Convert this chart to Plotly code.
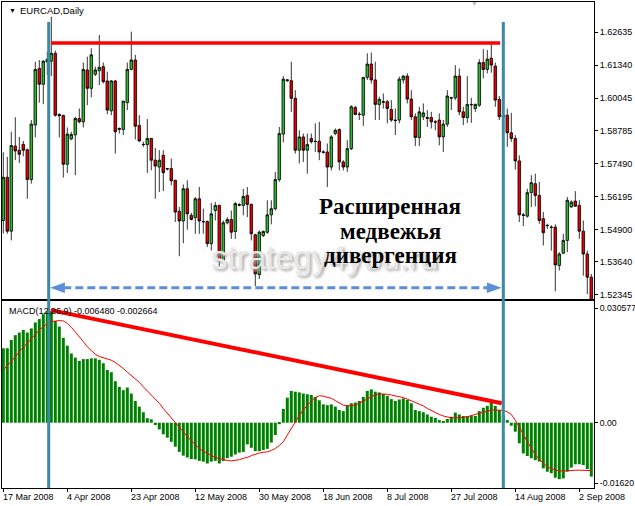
import plotly.graph_objects as go

# ---------------- data ----------------
opens = [1.5526,1.5695,1.5484,1.5817,1.5801,1.5824,1.5803,1.5686,1.5900,1.6121,
 1.6059,1.6146,1.6149,1.6180,1.5941,1.5937,1.5746,1.5845,1.5861,1.5925,
 1.5912,1.6115,1.6043,1.6098,1.6112,1.6128,1.6072,1.5955,1.6072,1.5886,
 1.5882,1.5987,1.6117,1.6154,1.5898,1.5824,1.5823,1.5847,1.5762,1.5735,
 1.5781,1.5729,1.5729,1.5683,1.5562,1.5524,1.5650,1.5546,1.5537,1.5611,
 1.5522,1.5522,1.5435,1.5565,1.5585,1.5369,1.5517,1.5530,1.5483,1.5588,
 1.5585,1.5624,1.5589,1.5470,1.5314,1.5467,1.5480,1.5548,1.5572,1.5686,
 1.5864,1.6073,1.6073,1.6004,1.5801,1.5853,1.5801,1.5847,1.5836,1.5836,
 1.5794,1.5794,1.5735,1.5866,1.5882,1.5755,1.5735,1.5807,1.5968,1.5942,
 1.5938,1.6086,1.6138,1.6076,1.5980,1.5991,1.5991,1.5960,1.5919,1.5919,
 1.6076,1.6091,1.6001,1.5932,1.5851,1.5932,1.5925,1.5929,1.5912,1.5919,
 1.5853,1.5903,1.6006,1.6006,1.6091,1.5951,1.5929,1.5980,1.5964,1.5977,
 1.6144,1.6117,1.6161,1.6130,1.6000,1.5932,1.5938,1.5869,1.5847,1.5759,
 1.5548,1.5543,1.5635,1.5670,1.5624,1.5533,1.5507,1.5500,1.5500,1.5350,
 1.5398,1.5448,1.5579,1.5602,1.5585,1.5484,1.5395,1.5304]
highs = [1.5793,1.5775,1.5873,1.5930,1.5853,1.5837,1.5807,1.5919,1.6147,1.6154,
 1.6154,1.6187,1.6323,1.6191,1.5945,1.5940,1.5890,1.5873,1.5932,1.5964,
 1.6144,1.6167,1.6200,1.6128,1.6252,1.6144,1.6108,1.6076,1.6076,1.5890,
 1.5993,1.6144,1.6265,1.6174,1.5938,1.5834,1.5923,1.5849,1.5810,1.5801,
 1.5801,1.5731,1.5768,1.5686,1.5579,1.5667,1.5683,1.5556,1.5618,1.5657,
 1.5572,1.5526,1.5594,1.5598,1.5588,1.5526,1.5539,1.5565,1.5598,1.5594,
 1.5650,1.5657,1.5592,1.5474,1.5487,1.5487,1.5605,1.5605,1.5716,1.5892,
 1.6091,1.6078,1.6147,1.6036,1.5879,1.5866,1.5866,1.5866,1.5906,1.5912,
 1.5801,1.5827,1.5860,1.5886,1.5886,1.5762,1.5840,1.5977,1.5974,1.5951,
 1.6086,1.6180,1.6183,1.6147,1.6010,1.6023,1.5997,1.5997,1.5964,1.6089,
 1.6095,1.6102,1.6036,1.5945,1.5971,1.5984,1.5958,1.5951,1.5919,1.5945,
 1.5919,1.6036,1.6010,1.6134,1.6121,1.5971,1.6091,1.6006,1.5984,1.6157,
 1.6196,1.6193,1.6217,1.6144,1.6013,1.5964,1.5964,1.5947,1.5860,1.5781,
 1.5556,1.5650,1.5703,1.5709,1.5677,1.5559,1.5513,1.5507,1.5511,1.5402,
 1.5474,1.5618,1.5605,1.5641,1.5605,1.5526,1.5408,1.5317]
lows = [1.5475,1.5474,1.5448,1.5762,1.5751,1.5777,1.5611,1.5670,1.5851,1.5987,
 1.5981,1.6095,1.6091,1.5932,1.5851,1.5694,1.5712,1.5840,1.5703,1.5906,
 1.5890,1.5977,1.6008,1.6091,1.6056,1.6062,1.5942,1.5938,1.5788,1.5866,
 1.5860,1.5958,1.6115,1.5843,1.5834,1.5814,1.5712,1.5722,1.5611,1.5637,
 1.5641,1.5722,1.5664,1.5520,1.5386,1.5437,1.5490,1.5526,1.5474,1.5474,
 1.5474,1.5422,1.5408,1.5526,1.5346,1.5363,1.5511,1.5454,1.5454,1.5581,
 1.5546,1.5539,1.5448,1.5269,1.5297,1.5461,1.5474,1.5511,1.5565,1.5677,
 1.5832,1.6068,1.5951,1.5788,1.5749,1.5755,1.5709,1.5827,1.5794,1.5762,
 1.5788,1.5657,1.5722,1.5860,1.5722,1.5722,1.5716,1.5801,1.5938,1.5919,
 1.5896,1.6076,1.6062,1.5919,1.5919,1.5964,1.5906,1.5912,1.5860,1.5906,
 1.6062,1.5984,1.5919,1.5817,1.5817,1.5919,1.5892,1.5886,1.5879,1.5820,
 1.5794,1.5892,1.5958,1.5997,1.5938,1.5899,1.5908,1.5908,1.5951,1.5971,
 1.6082,1.6102,1.6104,1.5971,1.5919,1.5912,1.5814,1.5834,1.5725,1.5520,
 1.5504,1.5537,1.5579,1.5581,1.5513,1.5428,1.5493,1.5408,1.5249,1.5330,
 1.5395,1.5402,1.5576,1.5579,1.5454,1.5310,1.5238,1.5199]
closes = [1.5695,1.5484,1.5819,1.5798,1.5785,1.5801,1.5686,1.5903,1.6117,1.6059,
 1.6149,1.6157,1.6180,1.5938,1.5936,1.5746,1.5864,1.5862,1.5925,1.5912,
 1.6117,1.6043,1.6174,1.6115,1.6125,1.6069,1.5958,1.6072,1.5873,1.5883,
 1.5993,1.6117,1.6154,1.5895,1.5837,1.5823,1.5847,1.5762,1.5739,1.5762,
 1.5713,1.5728,1.5681,1.5559,1.5524,1.5650,1.5552,1.5530,1.5611,1.5524,
 1.5521,1.5435,1.5552,1.5585,1.5369,1.5517,1.5530,1.5480,1.5592,1.5586,
 1.5620,1.5589,1.5474,1.5317,1.5480,1.5483,1.5548,1.5572,1.5686,1.5866,
 1.6079,1.6076,1.6004,1.5801,1.5853,1.5801,1.5823,1.5834,1.5835,1.5794,
 1.5793,1.5735,1.5853,1.5879,1.5755,1.5735,1.5807,1.5971,1.5941,1.5941,
 1.6086,1.6138,1.6076,1.5980,1.6000,1.5989,1.5964,1.5919,1.5917,1.6079,
 1.6091,1.6001,1.5932,1.5851,1.5951,1.5947,1.5929,1.5912,1.5911,1.5853,
 1.5903,1.6013,1.6005,1.6091,1.5951,1.5929,1.5980,1.5979,1.5980,1.6144,
 1.6117,1.6157,1.6134,1.5997,1.5932,1.5938,1.5869,1.5847,1.5759,1.5548,
 1.5546,1.5635,1.5674,1.5624,1.5526,1.5478,1.5506,1.5499,1.5352,1.5395,
 1.5448,1.5605,1.5598,1.5582,1.5484,1.5395,1.5304,1.5212]

macd_hist = [0.0199,0.0199,0.0221,0.0234,0.0241,0.0248,0.0241,0.0252,0.0268,0.0277,
 0.0290,0.0297,0.0298,0.0272,0.0257,0.0227,0.0206,0.0185,0.0174,0.0165,
 0.0170,0.0170,0.0172,0.0172,0.0168,0.0159,0.0141,0.0135,0.0111,0.0096,
 0.0087,0.0094,0.0078,0.0058,0.0043,0.0028,0.0012,0.0009,-0.0006,-0.0018,
 -0.0031,-0.0040,-0.0051,-0.0064,-0.0078,-0.0088,-0.0093,-0.0097,-0.0098,-0.0102,
 -0.0104,-0.0109,-0.0104,-0.0102,-0.0109,-0.0102,-0.0095,-0.0091,-0.0085,-0.0080,
 -0.0078,-0.0058,-0.0067,-0.0076,-0.0076,-0.0073,-0.0070,-0.0053,-0.0033,-0.0004,
 0.0037,0.0067,0.0085,0.0083,0.0081,0.0078,0.0076,0.0074,0.0069,0.0060,
 0.0049,0.0047,0.0049,0.0043,0.0034,0.0031,0.0047,0.0052,0.0054,0.0058,
 0.0069,0.0085,0.0089,0.0083,0.0081,0.0077,0.0072,0.0063,0.0058,0.0062,
 0.0065,0.0061,0.0052,0.0034,0.0031,0.0028,0.0022,0.0016,0.0013,0.0007,
 0.0004,0.0010,0.0016,0.0027,0.0022,0.0018,0.0018,0.0018,0.0018,0.0031,
 0.0040,0.0045,0.0053,0.0045,0.0034,0.0020,0.0007,-0.0008,-0.0024,-0.0055,
 -0.0082,-0.0089,-0.0095,-0.0100,-0.0104,-0.0122,-0.0131,-0.0135,-0.0147,-0.0151,
 -0.0149,-0.0131,-0.0120,-0.0111,-0.0111,-0.0113,-0.0124,-0.0144]
macd_signal = [0.0141,0.0152,0.0165,0.0176,0.0190,0.0201,0.0212,0.0224,0.0236,0.0248,
 0.0257,0.0265,0.0270,0.0272,0.0273,0.0272,0.0266,0.0255,0.0243,0.0230,
 0.0217,0.0203,0.0192,0.0183,0.0177,0.0174,0.0170,0.0167,0.0161,0.0154,
 0.0145,0.0135,0.0126,0.0117,0.0108,0.0096,0.0085,0.0074,0.0063,0.0052,
 0.0038,0.0025,0.0013,0.0001,-0.0011,-0.0024,-0.0037,-0.0048,-0.0060,-0.0069,
 -0.0076,-0.0082,-0.0088,-0.0093,-0.0096,-0.0099,-0.0101,-0.0102,-0.0101,-0.0099,
 -0.0095,-0.0093,-0.0088,-0.0084,-0.0081,-0.0079,-0.0078,-0.0074,-0.0069,-0.0061,
 -0.0051,-0.0033,-0.0015,0.0003,0.0019,0.0034,0.0047,0.0058,0.0067,0.0072,
 0.0071,0.0069,0.0065,0.0059,0.0052,0.0047,0.0045,0.0045,0.0047,0.0052,
 0.0058,0.0065,0.0071,0.0075,0.0077,0.0077,0.0076,0.0074,0.0072,0.0069,
 0.0067,0.0063,0.0059,0.0054,0.0050,0.0045,0.0038,0.0032,0.0027,0.0022,
 0.0018,0.0015,0.0013,0.0013,0.0013,0.0014,0.0016,0.0019,0.0022,0.0026,
 0.0029,0.0032,0.0034,0.0034,0.0034,0.0033,0.0029,0.0022,0.0007,-0.0011,
 -0.0031,-0.0051,-0.0069,-0.0085,-0.0098,-0.0109,-0.0118,-0.0123,-0.0127,-0.0129,
 -0.0129,-0.0128,-0.0127,-0.0127,-0.0127,-0.0127,-0.0127,-0.0128]

date_labels = ["17 Mar 2008", "4 Apr 2008", "23 Apr 2008", "12 May 2008", "30 May 2008",
               "18 Jun 2008", "8 Jul 2008", "27 Jul 2008", "14 Aug 2008", "2 Sep 2008"]
date_label_bars = [0, 16, 32, 48, 64, 80, 96, 112, 128, 144]

price_ticks = [1.62635, 1.61340, 1.60045, 1.58785, 1.57490, 1.56195, 1.54900, 1.53640, 1.52345]
price_tick_text = ["1.62635", "1.61340", "1.60045", "1.58785", "1.57490",
                   "1.56195", "1.54900", "1.53640", "1.52345"]
macd_ticks = [0.030577, 0.0, -0.01620]
macd_tick_text = ["0.030577", "0.00", "-0.01620"]

resistance_level = 1.62203
macd_line_start = (11.9, 0.0301)
macd_line_end = (124.6, 0.0052)
marker_bars = [11.35, 125.0]

# ---------------- layout helpers ----------------
W, H = 635, 506
ML, MR, MT, MB = 2, 41, 2, 18
PW, PH = W - ML - MR, H - MT - MB


def px(x):
    return (x - ML) / PW


def py(y):
    return (H - MB - y) / PH


bars = list(range(len(opens)))
xr = [-0.325, 147.675]
FONT = "Liberation Sans"

fig = go.Figure()
fig.add_trace(go.Candlestick(
    x=bars, open=opens, high=highs, low=lows, close=closes,
    increasing=dict(line=dict(color="black", width=0.8), fillcolor="#2fb52f"),
    decreasing=dict(line=dict(color="black", width=0.8), fillcolor="#e00000"),
    whiskerwidth=0, xaxis="x", yaxis="y", showlegend=False, hoverinfo="skip"))
fig.add_trace(go.Bar(x=bars, y=macd_hist, marker=dict(color="#008000", line=dict(width=0)),
                     xaxis="x2", yaxis="y2", showlegend=False, hoverinfo="skip"))
fig.add_trace(go.Scatter(x=bars, y=macd_signal, mode="lines", line=dict(color="#ff0000", width=1),
                         xaxis="x2", yaxis="y2", showlegend=False, hoverinfo="skip"))

axis_common = dict(showgrid=False, zeroline=False, showline=True, mirror=True,
                   linecolor="black", linewidth=1, automargin=False)
fig.update_layout(
    width=W, height=H, margin=dict(l=ML, r=MR, t=MT, b=MB, autoexpand=False),
    paper_bgcolor="white", plot_bgcolor="white", bargap=0.25, boxgap=0.08,
    font=dict(family=FONT, size=9, color="black"),
    xaxis=dict(domain=[0, 1], anchor="y", range=xr, showticklabels=False, ticks="",
               rangeslider=dict(visible=False), **axis_common),
    yaxis=dict(domain=[py(299), 1], anchor="x", side="right", range=[1.52187, 1.63809],
               tickvals=price_ticks, ticktext=price_tick_text, ticks="outside", ticklen=3,
               tickcolor="black", tickfont=dict(family=FONT, size=9), **axis_common),
    xaxis2=dict(domain=[0, 1], anchor="y2", range=xr, matches="x", showticklabels=False,
                ticks="outside", ticklen=3, tickcolor="black", tickvals=date_label_bars,
                **axis_common),
    yaxis2=dict(domain=[0, py(301)], anchor="x2", side="right", range=[-0.01745, 0.03253],
                tickvals=macd_ticks, ticktext=macd_tick_text, ticks="outside", ticklen=3,
                tickcolor="black", tickfont=dict(family=FONT, size=8.7), **axis_common),
)

shapes = []
# horizontal resistance line on price
shapes.append(dict(type="line", xref="x", yref="y", x0=11.9, x1=124.2,
                   y0=resistance_level, y1=resistance_level,
                   line=dict(color="#ff0000", width=3.5)))
# blue vertical markers
for xb in marker_bars:
    shapes.append(dict(type="line", xref="x", yref="paper", x0=xb, x1=xb,
                       y0=0, y1=py(22), line=dict(color="#3a8ba3", width=3)))
# dashed double arrow
arrow_y = 1.52626
ah = 0.00205
shapes.append(dict(type="line", xref="x", yref="y", x0=15.0, x1=121.2, y0=arrow_y, y1=arrow_y,
                   line=dict(color="#5b8fd8", width=3, dash="8px,4px")))
shapes.append(dict(type="path", xref="x", yref="y",
                   path=f"M 11.7 {arrow_y} L 15.4 {arrow_y + ah} L 15.4 {arrow_y - ah} Z",
                   fillcolor="#5b8fd8", line=dict(width=0)))
shapes.append(dict(type="path", xref="x", yref="y",
                   path=f"M 124.6 {arrow_y} L 120.9 {arrow_y + ah} L 120.9 {arrow_y - ah} Z",
                   fillcolor="#5b8fd8", line=dict(width=0)))
# MACD divergence line
shapes.append(dict(type="line", xref="x2", yref="y2", x0=macd_line_start[0], y0=macd_line_start[1],
                   x1=macd_line_end[0], y1=macd_line_end[1],
                   line=dict(color="#ff0000", width=4)))
fig.update_layout(shapes=shapes)

ann = []
ann.append(dict(xref="paper", yref="paper", x=px(7), y=py(11), text="▼", showarrow=False,
                xanchor="left", yanchor="middle", font=dict(size=7, color="black")))
ann.append(dict(xref="paper", yref="paper", x=px(18), y=py(11), text="EURCAD,Daily",
                showarrow=False, xanchor="left", yanchor="middle",
                font=dict(family=FONT, size=9.5, color="black")))
ann.append(dict(xref="paper", yref="paper", x=px(474), y=py(3), text="▼", showarrow=False,
                xanchor="center", yanchor="middle", font=dict(size=7, color="#b8b8b8")))
ann.append(dict(xref="paper", yref="paper", x=px(7), y=py(311),
                text="MACD(12,26,9) -0.006480 -0.002664", showarrow=False,
                xanchor="left", yanchor="middle", font=dict(family=FONT, size=9, color="black")))
# watermark
ann.append(dict(xref="paper", yref="paper", x=px(324), y=py(257), text="strategy4you.ru",
                showarrow=False, xanchor="center", yanchor="middle",
                font=dict(family="Liberation Sans", size=33, color="#e8e8e8",
                          shadow="2px 2px 3px #a8a8a8")))
# divergence text
for txt, yy in [("Расширенная", 206), ("медвежья", 231), ("дивергенция", 256)]:
    ann.append(dict(xref="paper", yref="paper", x=px(390), y=py(yy), text=f"<b>{txt}</b>",
                    showarrow=False, xanchor="center", yanchor="middle",
                    font=dict(family="Liberation Serif", size=23, color="black")))
# date labels
for lab, b in zip(date_labels, date_label_bars):
    ann.append(dict(xref="x2", yref="paper", x=b, y=py(497), text=lab, showarrow=False,
                    xanchor="left", yanchor="middle", xshift=-2,
                    font=dict(family=FONT, size=9, color="black")))
fig.update_layout(annotations=ann)

fig.write_html("out.html", config={"displayModeBar": False},
               post_script="document.body.style.margin='0px';document.body.style.overflow='hidden';")
